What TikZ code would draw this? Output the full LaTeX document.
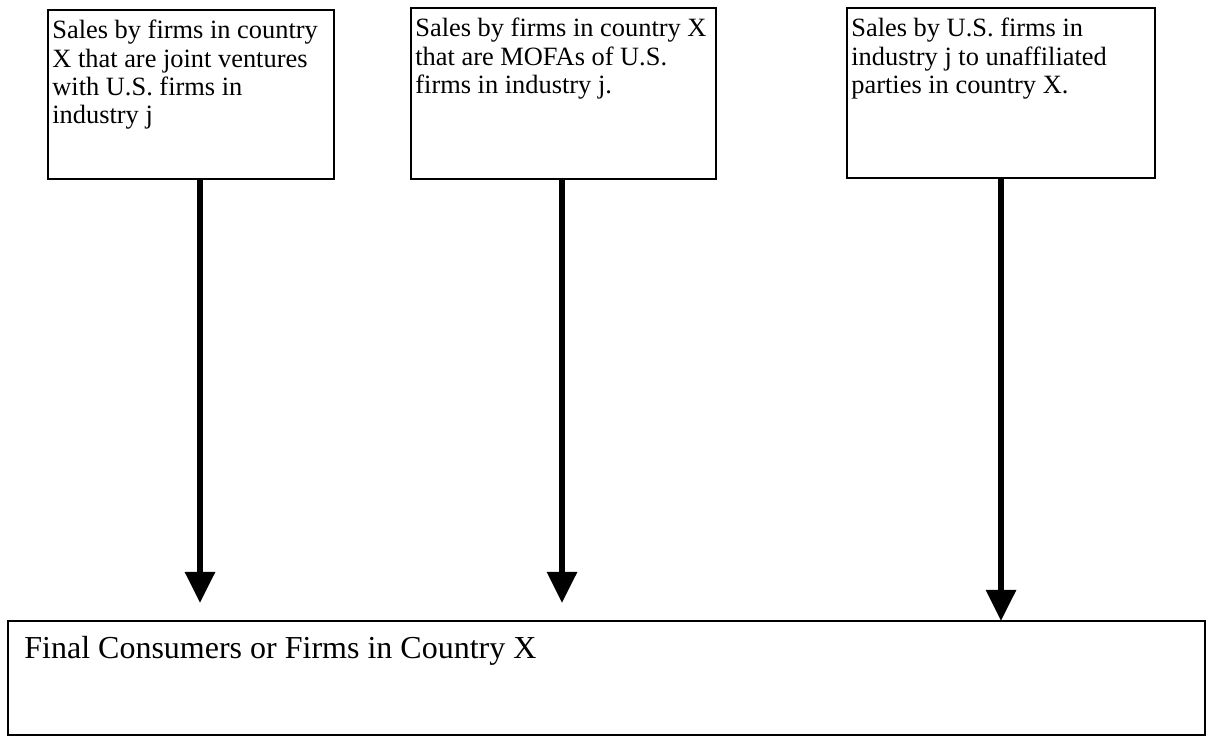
\documentclass[tikz,border=0pt]{standalone}
\usepackage{fontspec}
\setmainfont{Liberation Serif}
\usetikzlibrary{arrows.meta}

\begin{document}
\begin{tikzpicture}[firm/.style={draw, line width=0.9pt, anchor=north west, inner sep=0pt, outer sep=0pt},
     lbl/.style={anchor=north west, align=left, inner xsep=2pt, inner ysep=5pt, font=\fontsize{13.2}{14.1}\selectfont},
     flow/.style={line width=3pt, -{Triangle[width=14.5pt,length=15.5pt]}}]
     \useasboundingbox (0,0) rectangle (605.5pt,368.5pt);

     \node[firm, minimum width=143pt, minimum height=84.5pt] (jv) at (24pt,363.5pt) {};
     \node[firm, minimum width=152.5pt, minimum height=85.5pt] (mofa) at (205.5pt,364.5pt) {};
     \node[firm, minimum width=154pt, minimum height=85pt] (unaff) at (423.5pt,364.5pt) {};
     \node[firm, minimum width=598.5pt, minimum height=57pt] (final) at (4pt,58pt) {};

     \node[lbl] (jvtext) at (jv.north west) {Sales by firms in country\\X that are joint ventures\\with U.S. firms in\\industry j};
     \node[lbl] (mofatext) at (mofa.north west) {Sales by firms in country X\\that are MOFAs of U.S.\\firms in industry j.};
     \node[lbl] (unafftext) at (unaff.north west) {Sales by U.S. firms in\\industry j to unaffiliated\\parties in country X.};
     \node[anchor=base west, inner sep=0pt, font=\fontsize{16}{18}\selectfont] (finaltext)
          at ([xshift=8pt,yshift=-19pt]final.north west) {Final Consumers or Firms in Country X};

     \draw[flow] ([xshift=4.5pt]jv.south) -- ([xshift=4.5pt,yshift=9pt]jv.south |- final.north);
     \draw[flow] ([xshift=-0.75pt]mofa.south) -- ([xshift=-0.75pt,yshift=9pt]mofa.south |- final.north);
     \draw[flow] (unaff.south) -- (unaff.south |- final.north);
\end{tikzpicture}
\end{document}
